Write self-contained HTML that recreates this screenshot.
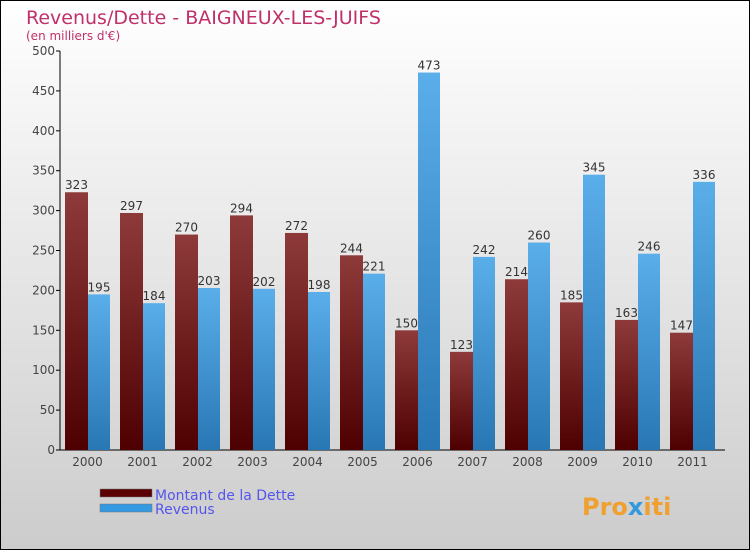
<!DOCTYPE html>
<html><head><meta charset="utf-8"><style>
body{margin:0;width:750px;height:550px;overflow:hidden;font-family:"DejaVu Sans","Liberation Sans",sans-serif}
</style></head><body>
<svg width="750" height="550" xmlns="http://www.w3.org/2000/svg">
<defs>
<linearGradient id="bg" x1="0" y1="0" x2="0" y2="1"><stop offset="0" stop-color="#ffffff"/><stop offset="1" stop-color="#cccccc"/></linearGradient>
<linearGradient id="gd" x1="0" y1="0" x2="0" y2="1"><stop offset="0" stop-color="#8e3a3a"/><stop offset="1" stop-color="#4e0000"/></linearGradient>
<linearGradient id="gr" x1="0" y1="0" x2="0" y2="1"><stop offset="0" stop-color="#5aaeea"/><stop offset="1" stop-color="#2877b4"/></linearGradient>
</defs>
<rect x="0.5" y="0.5" width="749" height="549" fill="url(#bg)" stroke="#000"/>
<text x="26" y="24" font-size="19" fill="#c0306a">Revenus/Dette - BAIGNEUX-LES-JUIFS</text>
<text x="26" y="40" font-size="12" fill="#c0306a">(en milliers d'€)</text>
<g id="axes"></g>
<g id="bars"></g>
<g>
<rect x="100" y="489" width="52" height="8" fill="#5a0000" stroke="#777" stroke-width="0.5"/>
<text x="155" y="500" font-size="14" fill="#5555ee">Montant de la Dette</text>
<rect x="100" y="504" width="52" height="8" fill="#3399e0" stroke="#777" stroke-width="0.5"/>
<text x="155" y="514" font-size="14" fill="#5555ee">Revenus</text>
</g>
<text x="582" y="515" font-size="24" font-weight="bold" fill="#f0a030">Pro<tspan fill="#3399dd">x</tspan>iti</text>
</svg>
<script>
const years=["2000","2001","2002","2003","2004","2005","2006","2007","2008","2009","2010","2011"];
const dette=[323,297,270,294,272,244,150,123,214,185,163,147];
const revenus=[195,184,203,202,198,221,473,242,260,345,246,336];
const yTicks=[0,50,100,150,200,250,300,350,400,450,500];
const NS="http://www.w3.org/2000/svg";
const y=v=>450-v*0.798;
const x0=i=>65+i*55;
function mk(tag,attrs,parent,txt){const e=document.createElementNS(NS,tag);for(const k in attrs)e.setAttribute(k,attrs[k]);if(txt!==undefined)e.textContent=txt;parent.appendChild(e);return e;}
const ax=document.getElementById('axes'),bg=document.getElementById('bars');
let a=mk('line',{x1:60,y1:y(500),x2:60,y2:450,stroke:'#000'},ax);


a=mk('line',{x1:60,y1:450,x2:725,y2:450,stroke:'#000'},ax);


yTicks.forEach(v=>{
 mk('line',{x1:56,y1:y(v),x2:60,y2:y(v),stroke:'#000'},ax);
 const t=mk('text',{x:55,y:y(v)+4,'font-size':12,'text-anchor':'end',fill:'#444'},ax,v);
 
 
});
years.forEach((yr,i)=>{
 const t=mk('text',{x:x0(i)+22.5,y:466,'font-size':12,'text-anchor':'middle',fill:'#444'},ax,yr);
 
 
 let r=mk('rect',{x:x0(i),y:y(dette[i]),width:23,height:450-y(dette[i]),fill:'url(#gd)'},bg);
 
 
 r=mk('rect',{x:x0(i)+23,y:y(revenus[i]),width:22,height:450-y(revenus[i]),fill:'url(#gr)'},bg);
 
 
 let l=mk('text',{x:x0(i)+11.5,y:y(dette[i])-3,'font-size':12,'text-anchor':'middle',fill:'#333'},bg,dette[i]);
 
 
 l=mk('text',{x:x0(i)+34,y:y(revenus[i])-3,'font-size':12,'text-anchor':'middle',fill:'#333'},bg,revenus[i]);
 
 
});
</script>
</body></html>
